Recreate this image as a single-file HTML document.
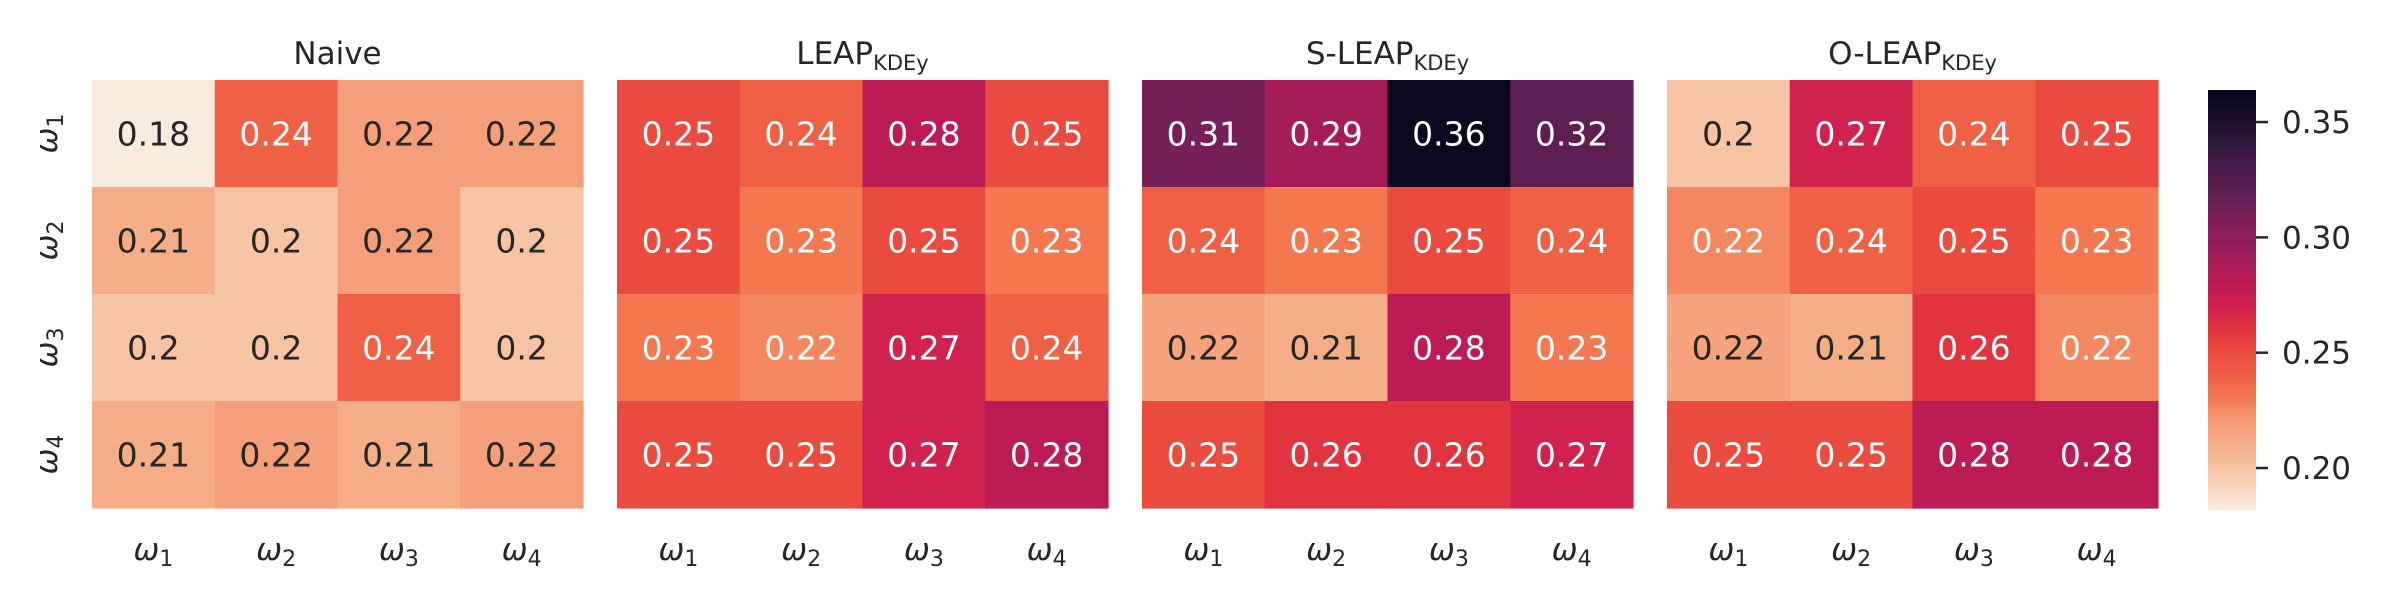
<!DOCTYPE html>
<html><head><meta charset="utf-8"><style>
html,body{margin:0;padding:0;background:#fff;width:2400px;height:600px;overflow:hidden}
svg text{font-family:"DejaVu Sans","Liberation Sans",sans-serif;fill:#262626}
</style></head><body>
<svg id="chart" width="2400" height="600" xmlns="http://www.w3.org/2000/svg"></svg>
<script>
const panelTitles = ["Naive", "LEAP", "S-LEAP", "O-LEAP"];
const panelSubs = ["", "KDEy", "KDEy", "KDEy"];
const classLabels = ["1", "2", "3", "4"];
const naiveVals = [[0.18,0.24,0.218,0.218],[0.21,0.2,0.218,0.2],[0.2,0.2,0.24,0.2],[0.21,0.218,0.21,0.218]];
const leapVals = [[0.25,0.24,0.28,0.25],[0.25,0.23,0.25,0.23],[0.23,0.226,0.27,0.24],[0.25,0.25,0.27,0.28]];
const sleapVals = [[0.31,0.29,0.36,0.32],[0.24,0.23,0.25,0.24],[0.216,0.21,0.28,0.23],[0.25,0.26,0.26,0.27]];
const oleapVals = [[0.2,0.27,0.24,0.25],[0.226,0.24,0.25,0.23],[0.216,0.21,0.26,0.226],[0.25,0.25,0.28,0.28]];
const naiveLabels = [["0.18","0.24","0.22","0.22"],["0.21","0.2","0.22","0.2"],["0.2","0.2","0.24","0.2"],["0.21","0.22","0.21","0.22"]];
const leapLabels = [["0.25","0.24","0.28","0.25"],["0.25","0.23","0.25","0.23"],["0.23","0.22","0.27","0.24"],["0.25","0.25","0.27","0.28"]];
const sleapLabels = [["0.31","0.29","0.36","0.32"],["0.24","0.23","0.25","0.24"],["0.22","0.21","0.28","0.23"],["0.25","0.26","0.26","0.27"]];
const oleapLabels = [["0.2","0.27","0.24","0.25"],["0.22","0.24","0.25","0.23"],["0.22","0.21","0.26","0.22"],["0.25","0.25","0.28","0.28"]];
const cbarTicks = [0.20, 0.25, 0.30, 0.35];
const cbarTickLabels = ["0.20","0.25","0.30","0.35"];
const vmin = 0.1818, vmax = 0.3639;

const NS = "http://www.w3.org/2000/svg";
const svg = document.getElementById("chart");
const stops = [[0,"faebdd"],[0.1,"f6c4a4"],[0.155,"f5ad88"],[0.21,"f49c76"],[0.265,"f3784f"],[0.32,"ef6045"],[0.375,"eb4a3e"],[0.43,"e1343f"],[0.49,"cf1f4e"],[0.55,"b91a55"],[0.6,"a21c5a"],[0.71,"741f58"],[0.76,"5d1e52"],[0.85,"3a1a44"],[1,"03051a"]].map(([t,h])=>[t,[0,2,4].map(k=>parseInt(h.substr(k,2),16))]);
function cmap(v){
  let t=(v-vmin)/(vmax-vmin); t=Math.max(0,Math.min(1,t));
  for(let i=0;i<stops.length-1;i++){
    const [a,ca]=stops[i],[b,cb]=stops[i+1];
    if(t>=a&&t<=b){const f=(t-a)/(b-a);return ca.map((c,k)=>Math.round(c+(cb[k]-c)*f));}
  }
  return stops[stops.length-1][1];
}
function lum(c){const l=c.map(x=>{x/=255;return x<=0.03928?x/12.92:Math.pow((x+0.055)/1.055,2.4);});return 0.2126*l[0]+0.7152*l[1]+0.0722*l[2];}
function el(tag,attrs,txt){const e=document.createElementNS(NS,tag);for(const k in attrs)e.setAttribute(k,attrs[k]);if(txt!==undefined)e.textContent=txt;svg.appendChild(e);return e;}

const allVals=[naiveVals,leapVals,sleapVals,oleapVals];
const allLabels=[naiveLabels,leapLabels,sleapLabels,oleapLabels];
const panelX0=92, panelStep=525, panelW=491, top0=80, panelH=428;
const cw=panelW/4, ch=panelH/4;
function xCell(p,j){return panelX0+p*panelStep+j*cw;}
function yCell(i){return top0+i*ch;}

for(let p=0;p<4;p++){
  const vals=allVals[p], labs=allLabels[p];
  for(let i=0;i<4;i++)for(let j=0;j<4;j++){
    const c=cmap(vals[i][j]);
    const r=el("rect",{x:xCell(p,j),y:yCell(i),width:cw+0.6,height:ch+0.6,fill:`rgb(${c.join(",")})`});
    
    
    const t=el("text",{x:xCell(p,j)+cw/2,y:yCell(i)+ch/2+12,"text-anchor":"middle","font-size":"33"},labs[i][j]);
    t.style.fill=lum(c)<0.408?"#ffffff":"#262626";
    
    
  }
  const cx=panelX0+p*panelStep+panelW/2;
  const tt=el("text",{x:cx,y:64,"text-anchor":"middle","font-size":"31"});
  
  
  const m=document.createElementNS(NS,"tspan");m.textContent=panelTitles[p];tt.appendChild(m);
  if(panelSubs[p]){const s=document.createElementNS(NS,"tspan");s.setAttribute("font-size","21");s.setAttribute("dy","6");s.textContent=panelSubs[p];tt.appendChild(s);}
  for(let j=0;j<4;j++){
    const xt=el("text",{x:xCell(p,j)+cw/2,y:560,"text-anchor":"middle","font-size":"31","font-style":"italic"});
    
    
    const a=document.createElementNS(NS,"tspan");a.textContent="ω";xt.appendChild(a);
    const b=document.createElementNS(NS,"tspan");b.setAttribute("font-size","22");b.setAttribute("font-style","normal");b.setAttribute("dy","6");b.textContent=classLabels[j];xt.appendChild(b);
  }
}
for(let i=0;i<4;i++){
  const yc=yCell(i)+ch/2;
  const yt=el("text",{x:0,y:0,"text-anchor":"middle","font-size":"31","font-style":"italic",transform:`translate(57,${yc}) rotate(-90)`});
  
  
  const a=document.createElementNS(NS,"tspan");a.textContent="ω";yt.appendChild(a);
  const b=document.createElementNS(NS,"tspan");b.setAttribute("font-size","22");b.setAttribute("font-style","normal");b.setAttribute("dy","6");b.textContent=classLabels[i];yt.appendChild(b);
}
const cbX=2208, cbW=48, cbTop=90, cbBot=510;
const defs=document.createElementNS(NS,"defs");svg.appendChild(defs);
const g=document.createElementNS(NS,"linearGradient");g.setAttribute("id","cbg");g.setAttribute("x1","0");g.setAttribute("y1","1");g.setAttribute("x2","0");g.setAttribute("y2","0");defs.appendChild(g);
for(let k=0;k<=60;k++){const v=vmin+(vmax-vmin)*k/60;const st=document.createElementNS(NS,"stop");st.setAttribute("offset",k/60);st.setAttribute("stop-color",`rgb(${cmap(v).join(",")})`);g.appendChild(st);}
const cb=el("rect",{x:cbX,y:cbTop,width:cbW,height:cbBot-cbTop,fill:"url(#cbg)"});


function yCb(v){return cbBot-(v-vmin)/(vmax-vmin)*(cbBot-cbTop);}
cbarTicks.forEach((v,k)=>{
  const y=yCb(v);
  const ln=el("line",{x1:cbX+cbW,x2:cbX+cbW+12,y1:y,y2:y,stroke:"#262626","stroke-width":"2.5"});
  
  
  const t=el("text",{x:2282,y:y+11,"font-size":"31"},cbarTickLabels[k]);
  
  
});
</script>
</body></html>
